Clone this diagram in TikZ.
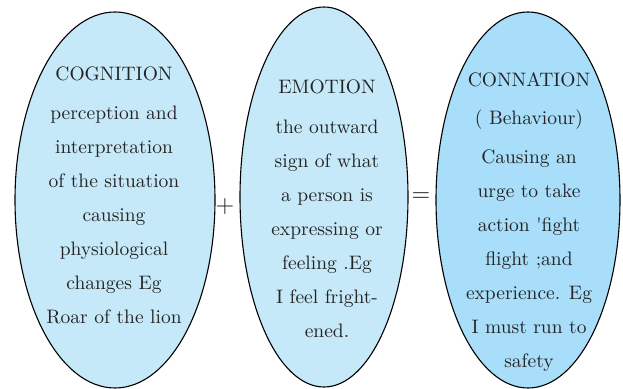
\documentclass[tikz,border=0pt]{standalone}
\usepackage{fontspec}
\setmainfont{lmroman10-regular.otf}
\usetikzlibrary{shapes.geometric}
\definecolor{pale}{RGB}{198,233,249}
\definecolor{deep}{RGB}{168,222,250}
\definecolor{ink}{RGB}{35,35,35}
\tikzset{
  oval/.style={ellipse, draw=black, line width=1.1pt, inner sep=0pt},
  body/.style={align=center, text=ink, font=\fontsize{19.5}{34}\selectfont, inner sep=0pt},
  sign/.style={text=ink, font=\fontsize{24}{24}\selectfont, inner sep=0pt}
}
\begin{document}
\begin{tikzpicture}[x=1pt,y=1pt]
\useasboundingbox (0,0) rectangle (623,388);
\node[oval, fill=pale, minimum width=200pt, minimum height=376pt] (cog) at (115,188) {};
\node[oval, fill=pale, minimum width=168pt, minimum height=380pt] (emo) at (324,191) {};
\node[oval, fill=deep, minimum width=184pt, minimum height=376pt] (con) at (528,188) {};
\node[body] (cogt) at (114,193) {COGNITION\\[5pt]perception and\\interpretation\\of the  situation\\causing\\physiological\\changes Eg\\Roar of the lion};
\node[body] (emot) at (327,179) {EMOTION\\[6pt]the outward\\sign of  what\\a person is\\expressing or\\feeling .Eg\\I feel fright-\\ened.};
\node[body] (cont) at (529,166) {CONNATION\\[4pt]( Behaviour)\\[5pt]Causing an\\urge to take\\action \textquotesingle fight\\flight ;and\\experience. Eg\\I must run to\\safety};
\node[sign] (plus) at (225,181) {+};
\node[sign] (eq) at (421,191) {=};
\end{tikzpicture}
\end{document}
